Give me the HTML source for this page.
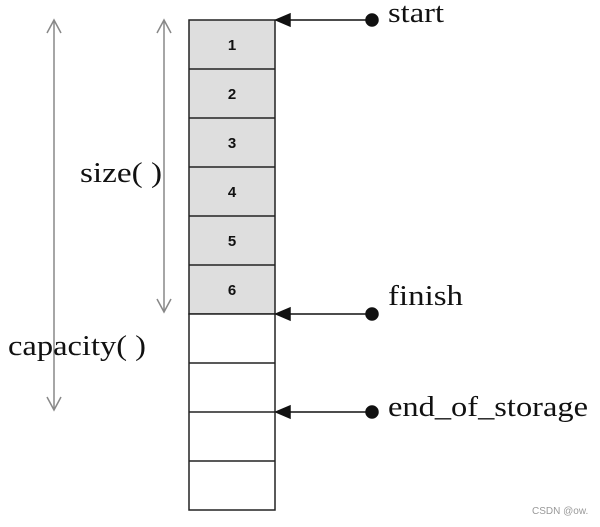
<!DOCTYPE html>
<html><head><style>
body{margin:0;width:600px;height:522px;background:#fff;overflow:hidden}
</style></head><body>
<svg width="600" height="522" xmlns="http://www.w3.org/2000/svg">
<g stroke="#222" stroke-width="1.5">
<rect x="189" y="20" width="86" height="294" fill="#dedede"/>
<rect x="189" y="314" width="86" height="196" fill="#fff"/>
<line x1="189" y1="69" x2="275" y2="69"/><line x1="189" y1="118" x2="275" y2="118"/>
<line x1="189" y1="167" x2="275" y2="167"/><line x1="189" y1="216" x2="275" y2="216"/>
<line x1="189" y1="265" x2="275" y2="265"/><line x1="189" y1="363" x2="275" y2="363"/>
<line x1="189" y1="412" x2="275" y2="412"/><line x1="189" y1="461" x2="275" y2="461"/>
</g>
<g font-family="Liberation Sans, sans-serif" font-size="15" font-weight="bold" text-anchor="middle" fill="#111">
<text x="232" y="50">1</text><text x="232" y="99">2</text><text x="232" y="148">3</text>
<text x="232" y="197">4</text><text x="232" y="246">5</text><text x="232" y="295">6</text>
</g>
<g stroke="#888" stroke-width="1.5" fill="none">
<line x1="54" y1="20" x2="54" y2="410"/><polyline points="47,33 54,20 61,33"/><polyline points="47,397 54,410 61,397"/>
<line x1="164" y1="20" x2="164" y2="312"/><polyline points="157,33 164,20 171,33"/><polyline points="157,299 164,312 171,299"/>
</g>
<g stroke="#111" stroke-width="1.5" fill="#111">
<line x1="285" y1="20" x2="372" y2="20"/><polygon points="276,20 290,14 290,26"/><circle cx="372" cy="20" r="6"/>
<line x1="285" y1="314" x2="372" y2="314"/><polygon points="276,314 290,308 290,320"/><circle cx="372" cy="314" r="6"/>
<line x1="285" y1="412" x2="372" y2="412"/><polygon points="276,412 290,406 290,418"/><circle cx="372" cy="412" r="6"/>
</g>
<g font-family="Liberation Serif, serif" font-size="29" fill="#111" lengthAdjust="spacingAndGlyphs">
<text x="388" y="22" textLength="56" lengthAdjust="spacingAndGlyphs">start</text>
<text x="388" y="305" textLength="75" lengthAdjust="spacingAndGlyphs">finish</text>
<text x="388" y="416" textLength="200" lengthAdjust="spacingAndGlyphs">end_of_storage</text>
<text x="80" y="182" textLength="82" lengthAdjust="spacingAndGlyphs">size( )</text>
<text x="8" y="355" textLength="138" lengthAdjust="spacingAndGlyphs">capacity( )</text>
</g>
<text x="532" y="514" font-family="Liberation Sans, sans-serif" font-size="10" fill="#999">CSDN @ow.</text>
</svg>
</body></html>
